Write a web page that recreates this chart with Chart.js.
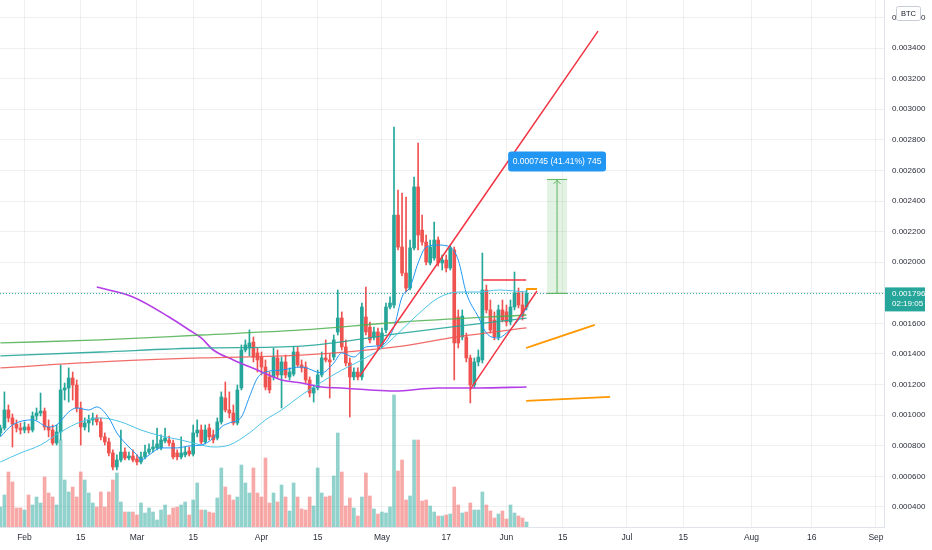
<!DOCTYPE html>
<html><head><meta charset="utf-8">
<script src="https://cdn.jsdelivr.net/npm/chart.js@4.4.0/dist/chart.umd.min.js"></script>
<style>html,body{margin:0;padding:0;background:#fff;overflow:hidden}canvas{display:block}</style>
</head><body>
<canvas id="c" width="932" height="550"></canvas>
<script>
// ---- data (daily candles, first candle = day-of-year 26, i.e. Jan 26) ----
const firstDay = 26;
const open = [
0.000884,0.000916,0.001034,0.000982,0.000942,0.000916,0.000903,0.000923,0.000903,0.000995,
0.001014,0.001027,0.000923,0.000903,0.000818,0.000890,0.001165,0.001178,0.001243,0.001197,
0.001047,0.000923,0.000949,0.000969,0.000982,0.000956,0.000858,0.000825,0.000753,0.000661,
0.000707,0.000759,0.000720,0.000733,0.000714,0.000694,0.000727,0.000759,0.000779,0.000786,
0.000786,0.000831,0.000838,0.000818,0.000753,0.000727,0.000740,0.000766,0.000746,0.000884,
0.000903,0.000825,0.000916,0.000871,0.000851,0.000956,0.001112,0.001034,0.001014,0.000949,
0.001178,0.001426,0.001439,0.001478,0.001407,0.001380,0.001315,0.001250,0.001250,0.001374,
0.001263,0.001348,0.001250,0.001269,0.001413,0.001328,0.001315,0.001230,0.001145,0.001178,
0.001263,0.001374,0.001361,0.001380,0.001544,0.001635,0.001446,0.001341,0.001250,0.001282,
0.001250,0.001642,0.001576,0.001511,0.001544,0.001459,0.001557,0.001707,0.001720,0.002308,
0.002099,0.001929,0.001831,0.002093,0.002492,0.002210,0.002132,0.001995,0.002027,0.002145,
0.001995,0.002014,0.001962,0.002080,0.001642,0.001511,0.001511,0.001374,0.001197,0.001348,
0.001361,0.001818,0.001688,0.001622,0.001511,0.001688,0.001675,0.001609,0.001707,0.001799,
0.001720,0.001707];
const high = [
0.000936,0.001152,0.001067,0.001008,0.000969,0.000949,0.000956,0.000942,0.001021,0.001047,
0.001145,0.001047,0.000969,0.000936,0.000936,0.001328,0.001210,0.001309,0.001282,0.001230,
0.001086,0.000982,0.001001,0.001014,0.001001,0.000982,0.000884,0.000851,0.000773,0.000740,
0.000903,0.000786,0.000759,0.000773,0.000740,0.000759,0.000805,0.000812,0.000838,0.000916,
0.000871,0.000916,0.000864,0.000838,0.000773,0.000858,0.000792,0.000792,0.000936,0.000969,
0.000936,0.000936,0.000942,0.000903,0.000982,0.001152,0.001217,0.001152,0.001067,0.001197,
0.001459,0.001492,0.001557,0.001511,0.001439,0.001413,0.001361,0.001282,0.001439,0.001426,
0.001380,0.001393,0.001309,0.001446,0.001446,0.001361,0.001348,0.001250,0.001197,0.001295,
0.001413,0.001492,0.001400,0.001524,0.001818,0.001675,0.001492,0.001374,0.001309,0.001309,
0.001733,0.001838,0.001609,0.001576,0.001570,0.001570,0.001733,0.001773,0.002884,0.002472,
0.002452,0.002426,0.002145,0.002557,0.002779,0.002308,0.002178,0.002145,0.002263,0.002165,
0.002047,0.002047,0.002112,0.002099,0.001688,0.001688,0.001537,0.001393,0.001374,0.001426,
0.002060,0.001851,0.001753,0.001675,0.001720,0.001753,0.001720,0.001753,0.001936,0.001831,
0.001805,0.001818];
const low = [
0.000864,0.000903,0.000956,0.000792,0.000890,0.000877,0.000884,0.000884,0.000890,0.000969,
0.000995,0.000903,0.000858,0.000805,0.000805,0.000838,0.001099,0.001086,0.001099,0.001021,
0.000805,0.000903,0.000890,0.000936,0.000936,0.000838,0.000805,0.000733,0.000642,0.000642,
0.000694,0.000707,0.000707,0.000694,0.000675,0.000681,0.000714,0.000746,0.000759,0.000773,
0.000773,0.000818,0.000799,0.000714,0.000707,0.000714,0.000727,0.000733,0.000733,0.000858,
0.000812,0.000812,0.000838,0.000818,0.000838,0.000942,0.001021,0.000982,0.000936,0.000936,
0.001165,0.001413,0.001387,0.001348,0.001282,0.001263,0.001165,0.001145,0.001230,0.001243,
0.001047,0.001243,0.001230,0.001256,0.001315,0.001282,0.001210,0.001119,0.001086,0.001165,
0.001250,0.001348,0.001112,0.001361,0.001524,0.001426,0.001322,0.000988,0.001230,0.001230,
0.001230,0.001524,0.001472,0.001492,0.001439,0.001439,0.001537,0.001694,0.001701,0.002080,
0.001910,0.001805,0.001818,0.002080,0.002080,0.002112,0.001982,0.001982,0.002014,0.001975,
0.001949,0.001936,0.001949,0.001230,0.001439,0.001492,0.001348,0.001080,0.001178,0.001322,
0.001341,0.001668,0.001537,0.001492,0.001492,0.001609,0.001583,0.001590,0.001688,0.001701,
0.001622,0.001688];
const close = [
0.000916,0.001034,0.000982,0.000942,0.000916,0.000903,0.000923,0.000903,0.000995,0.001014,
0.001027,0.000923,0.000903,0.000818,0.000890,0.001165,0.001178,0.001243,0.001197,0.001047,
0.000923,0.000949,0.000969,0.000982,0.000956,0.000858,0.000825,0.000753,0.000661,0.000707,
0.000759,0.000720,0.000733,0.000707,0.000694,0.000727,0.000759,0.000779,0.000792,0.000812,
0.000838,0.000851,0.000818,0.000727,0.000727,0.000753,0.000759,0.000746,0.000884,0.000903,
0.000825,0.000903,0.000858,0.000838,0.000956,0.001119,0.001034,0.001014,0.000949,0.001165,
0.001426,0.001459,0.001472,0.001380,0.001361,0.001315,0.001184,0.001165,0.001380,0.001263,
0.001348,0.001263,0.001282,0.001413,0.001328,0.001309,0.001230,0.001145,0.001178,0.001263,
0.001374,0.001361,0.001348,0.001492,0.001635,0.001446,0.001341,0.001250,0.001282,0.001250,
0.001707,0.001544,0.001492,0.001544,0.001459,0.001537,0.001707,0.001733,0.002308,0.002099,
0.001929,0.001831,0.002093,0.002492,0.002178,0.002132,0.002001,0.002099,0.002145,0.001995,
0.002014,0.001962,0.002093,0.001472,0.001472,0.001648,0.001374,0.001197,0.001348,0.001380,
0.001818,0.001688,0.001557,0.001511,0.001688,0.001622,0.001609,0.001707,0.001799,0.001720,
0.001648,0.001796];
const volume = [
20,32,55,45,19,19,17,32,22,30,
24,50,34,30,22,87,47,35,40,30,
55,47,34,24,20,35,20,35,47,54,
25,15,15,15,12,24,14,19,15,7,
17,22,12,19,20,22,25,12,27,44,
17,17,15,14,29,59,40,32,27,30,
62,44,34,59,34,30,69,24,34,25,
42,30,16,44,30,18,17,30,21,59,
34,30,31,51,94,55,21,29,19,11,
30,54,31,18,13,15,14,20,132,56,
67,27,31,87,87,26,27,21,15,11,
11,12,13,40,22,14,15,24,17,17,
35,22,16,9,13,16,8,22,14,11,
9,5];

// moving averages: [day, price]
const maPurple = [[50,0.001838],[59,0.001773],[68,0.001642],[73,0.001557],[76,0.001505],[79,0.001426],[84,0.001361],[90,0.001295],[96,0.001230],[101,0.001210],[106,0.001184],[111,0.001178],[118,0.001165],[124,0.001158],[135,0.001178],[145,0.001178],[157,0.001184]];
const maGreen = [[26,0.001472],[51,0.001492],[76,0.001524],[101,0.001557],[126,0.001609],[157,0.001655]];
const maTeal = [[26,0.001387],[51,0.001413],[76,0.001439],[101,0.001452],[126,0.001537],[138,0.001576],[157,0.001635]];
const maRed = [[26,0.001309],[51,0.001348],[76,0.001374],[101,0.001393],[126,0.001452],[138,0.001505],[157,0.001570]];
const maSlow = [[26,0.000694],[31,0.000753],[36,0.000805],[41,0.000890],[46,0.000956],[51,0.000982],[56,0.000956],[61,0.000903],[66,0.000864],[71,0.000838],[76,0.000805],[79,0.000792],[83,0.000805],[88,0.000884],[92,0.000969],[96,0.001034],[101,0.001132],[106,0.001217],[111,0.001295],[116,0.001361],[121,0.001440],[126,0.001560],[130,0.001660],[135,0.001766],[140,0.001805],[145,0.001805],[150,0.001818],[157,0.001805]];
const maFast = [[26,0.000858],[29,0.000936],[34,0.000969],[38,0.000923],[40,0.000936],[43,0.001021],[45,0.001047],[48,0.001034],[50,0.001054],[53,0.000982],[55,0.000884],[58,0.000792],[60,0.000740],[61,0.000707],[63,0.000740],[66,0.000786],[70,0.000786],[73,0.000799],[76,0.000805],[79,0.000851],[81,0.000923],[83,0.000949],[86,0.000988],[88,0.001119],[90,0.001243],[92,0.001282],[96,0.001295],[101,0.001315],[106,0.001276],[109,0.001341],[111,0.001407],[114,0.001380],[117,0.001446],[121,0.001459],[124,0.001576],[126,0.001773],[128,0.001838],[130,0.001995],[132,0.002099],[135,0.002112],[138,0.002099],[140,0.002014],[142,0.001799],[145,0.001642],[147,0.001537],[150,0.001505],[152,0.001537],[155,0.001622],[157,0.001701]];

// drawings
const redTrendA = [[115.5,0.001256],[174.8,0.003511]];
const redTrendB = [[142.9,0.001165],[159.6,0.001812]];
const redLevel = [[146.2,0.001884],[156.9,0.001884]];
const orangeLevel = [[156.9,0.001825],[159.6,0.001825]];
const orangeA = [[156.9,0.001439],[174.0,0.001590]];
const orangeB = [[156.9,0.001093],[177.8,0.001119]];
const measureDays = [162.1, 167.1];
const measureArrowDay = 164.6;
const measurePrices = [0.001796, 0.002541];
const measureLabel = '0.000745 (41.41%) 745';
const lastPrice = 0.001796;
const countdown = '02:19:05';
const symbolBadge = 'BTC';

// axes
const dateTickDays = [32,46,60,74,91,105,121,137,152,166,182,196,213,228,244];
const dateTickLabels = ['Feb','15','Mar','15','Apr','15','May','17','Jun','15','Jul','15','Aug','16','Sep'];
const priceTicks = [0.0004,0.0006,0.0008,0.0010,0.0012,0.0014,0.0016,0.0018,0.0020,0.0022,0.0024,0.0026,0.0028,0.0030,0.0032,0.0034,0.0036];

// ---- build ----
const UP = '#26a69a', DOWN = '#ef5350';
const days = open.map((_, i) => firstDay + i);
const isUp = open.map((o, i) => close[i] >= o);
const pts = arr => arr.map(p => ({x: p[0], y: p[1]}));
const FONT = '"Liberation Sans", Arial, sans-serif';

function lineDs(data, color, width, order, extra) {
  return Object.assign({type: 'line', data: pts(data), borderColor: color, borderWidth: width,
    pointRadius: 0, fill: false, order: order, yAxisID: 'y', cubicInterpolationMode: 'monotone'}, extra || {});
}

const datasets = [
  lineDs(redTrendA, '#f23645', 1.5, 1),
  lineDs(redTrendB, '#f23645', 1.5, 1),
  lineDs(redLevel, '#f23645', 1.5, 1),
  lineDs(orangeLevel, '#ff9800', 2, 1),
  lineDs(orangeA, '#ff9800', 1.8, 1),
  lineDs(orangeB, '#ff9800', 1.8, 1),
  lineDs([[measureDays[0], measurePrices[1]], [measureDays[1], measurePrices[1]]], 'rgba(76,175,80,0.9)', 1, 2,
    {fill: {value: measurePrices[0]}, backgroundColor: 'rgba(76,175,80,0.16)'}),
  lineDs([[measureDays[0], measurePrices[0]], [measureDays[1], measurePrices[0]]], 'rgba(76,175,80,0.9)', 1, 2),
  lineDs([[measureArrowDay, measurePrices[0]], [measureArrowDay, measurePrices[1]]], 'rgba(76,175,80,0.9)', 1, 2),
  lineDs([[25.9, lastPrice], [246, lastPrice]], UP, 1, 3, {borderDash: [1, 2]}),
  lineDs(maFast, '#2196f3', 1, 5),
  lineDs(maSlow, '#4cc3e6', 1, 5),
  lineDs(maGreen, 'rgba(76,175,80,0.85)', 1.3, 6),
  lineDs(maTeal, 'rgba(38,166,154,0.9)', 1.3, 6),
  lineDs(maRed, 'rgba(239,83,80,0.85)', 1.3, 6),
  lineDs(maPurple, '#b43fe6', 1.6, 6),
  {type: 'bar', label: 'body', yAxisID: 'y', order: 10, grouped: false, barThickness: 3, borderWidth: 0,
    data: days.map((d, i) => ({x: d, y: [Math.min(open[i], close[i]), Math.max(open[i], close[i])]})),
    backgroundColor: isUp.map(u => u ? UP : DOWN)},
  {type: 'bar', label: 'wick', yAxisID: 'y', order: 11, grouped: false, barThickness: 1, borderWidth: 0,
    data: days.map((d, i) => ({x: d, y: [low[i], high[i]]})),
    backgroundColor: isUp.map(u => u ? UP : DOWN)},
  {type: 'bar', label: 'volume', yAxisID: 'yv', order: 20, grouped: false, barThickness: 3, borderWidth: 0,
    data: days.map((d, i) => ({x: d, y: volume[i]})),
    backgroundColor: isUp.map(u => u ? 'rgba(38,166,154,0.5)' : 'rgba(239,83,80,0.5)')}
];

function rr(ctx, x, y, w, h, r) {
  ctx.beginPath();
  ctx.moveTo(x + r, y); ctx.lineTo(x + w - r, y); ctx.quadraticCurveTo(x + w, y, x + w, y + r);
  ctx.lineTo(x + w, y + h - r); ctx.quadraticCurveTo(x + w, y + h, x + w - r, y + h);
  ctx.lineTo(x + r, y + h); ctx.quadraticCurveTo(x, y + h, x, y + h - r);
  ctx.lineTo(x, y + r); ctx.quadraticCurveTo(x, y, x + r, y); ctx.closePath();
}

const overlay = {
  id: 'overlay',
  afterDatasetsDraw(chart) {
    const {ctx, scales: {x, y}} = chart;
    const ax = x.getPixelForValue(measureArrowDay), ay = y.getPixelForValue(measurePrices[1]);
    ctx.save();
    ctx.strokeStyle = 'rgba(76,175,80,0.9)'; ctx.lineWidth = 1;
    ctx.beginPath(); ctx.moveTo(ax - 3.5, ay + 4.5); ctx.lineTo(ax, ay + 1); ctx.lineTo(ax + 3.5, ay + 4.5); ctx.stroke();
    ctx.font = '8.5px ' + FONT;
    const tw = ctx.measureText(measureLabel).width;
    const bw = tw + 9, bh = 20, bx = ax - bw / 2, by = ay - 8 - bh;
    rr(ctx, bx, by, bw, bh, 3); ctx.fillStyle = '#2196f3'; ctx.fill();
    ctx.fillStyle = '#fff'; ctx.textAlign = 'center'; ctx.textBaseline = 'middle';
    ctx.fillText(measureLabel, ax, by + bh / 2 + 0.5);
    ctx.restore();
  },
  afterDraw(chart) {
    const {ctx, scales: {y}, chartArea} = chart;
    const py = y.getPixelForValue(lastPrice);
    ctx.save();
    const bx = chartArea.right + 1, bw = 932 - 7 - bx;
    ctx.fillStyle = UP; ctx.fillRect(bx, py - 6, bw, 24);
    ctx.fillStyle = '#fff'; ctx.font = '8px ' + FONT; ctx.textAlign = 'left'; ctx.textBaseline = 'middle';
    ctx.fillText(lastPrice.toFixed(6), chartArea.right + 8, py);
    ctx.fillText(countdown, chartArea.right + 8, py + 10.5);
    rr(ctx, 896.5, 6.5, 24, 14, 2); ctx.fillStyle = '#fff'; ctx.fill();
    ctx.strokeStyle = '#c9cdd6'; ctx.lineWidth = 1; ctx.stroke();
    ctx.fillStyle = '#131722'; ctx.font = '7.5px ' + FONT; ctx.textAlign = 'center';
    ctx.fillText(symbolBadge, 908.5, 14);
    ctx.restore();
  }
};

const gridColor = 'rgba(42,46,57,0.07)';
new Chart(document.getElementById('c'), {
  type: 'bar',
  data: {datasets},
  plugins: [overlay],
  options: {
    responsive: false, animation: false, devicePixelRatio: 1,
    layout: {padding: 0},
    plugins: {legend: {display: false}, tooltip: {enabled: false}},
    scales: {
      x: {type: 'linear', min: 25.9, max: 246, offset: false,
        afterBuildTicks: s => { s.ticks = dateTickDays.map(v => ({value: v})); },
        afterFit: s => { s.height = 23; s.paddingLeft = 0; s.paddingRight = 0; },
        ticks: {autoSkip: false, maxRotation: 0, padding: 6, color: '#2a2e39',
          font: {size: 8.5, family: FONT}, callback: (v, i) => dateTickLabels[i]},
        grid: {color: gridColor, drawTicks: false, offset: false},
        border: {display: true, color: '#e0e3eb'}},
      y: {position: 'right', min: 0.000269, max: 0.003714,
        afterBuildTicks: s => { s.ticks = priceTicks.map(v => ({value: v})); },
        afterFit: s => { s.width = 48; s.paddingTop = 0; s.paddingBottom = 0; },
        ticks: {padding: 8, color: '#2a2e39', font: {size: 8, family: FONT}, callback: v => Number(v).toFixed(6)},
        grid: {color: gridColor, drawTicks: false},
        border: {display: true, color: '#e0e3eb'}},
      yv: {display: false, min: 0, max: 527}
    }
  }
});
</script>
</body></html>
